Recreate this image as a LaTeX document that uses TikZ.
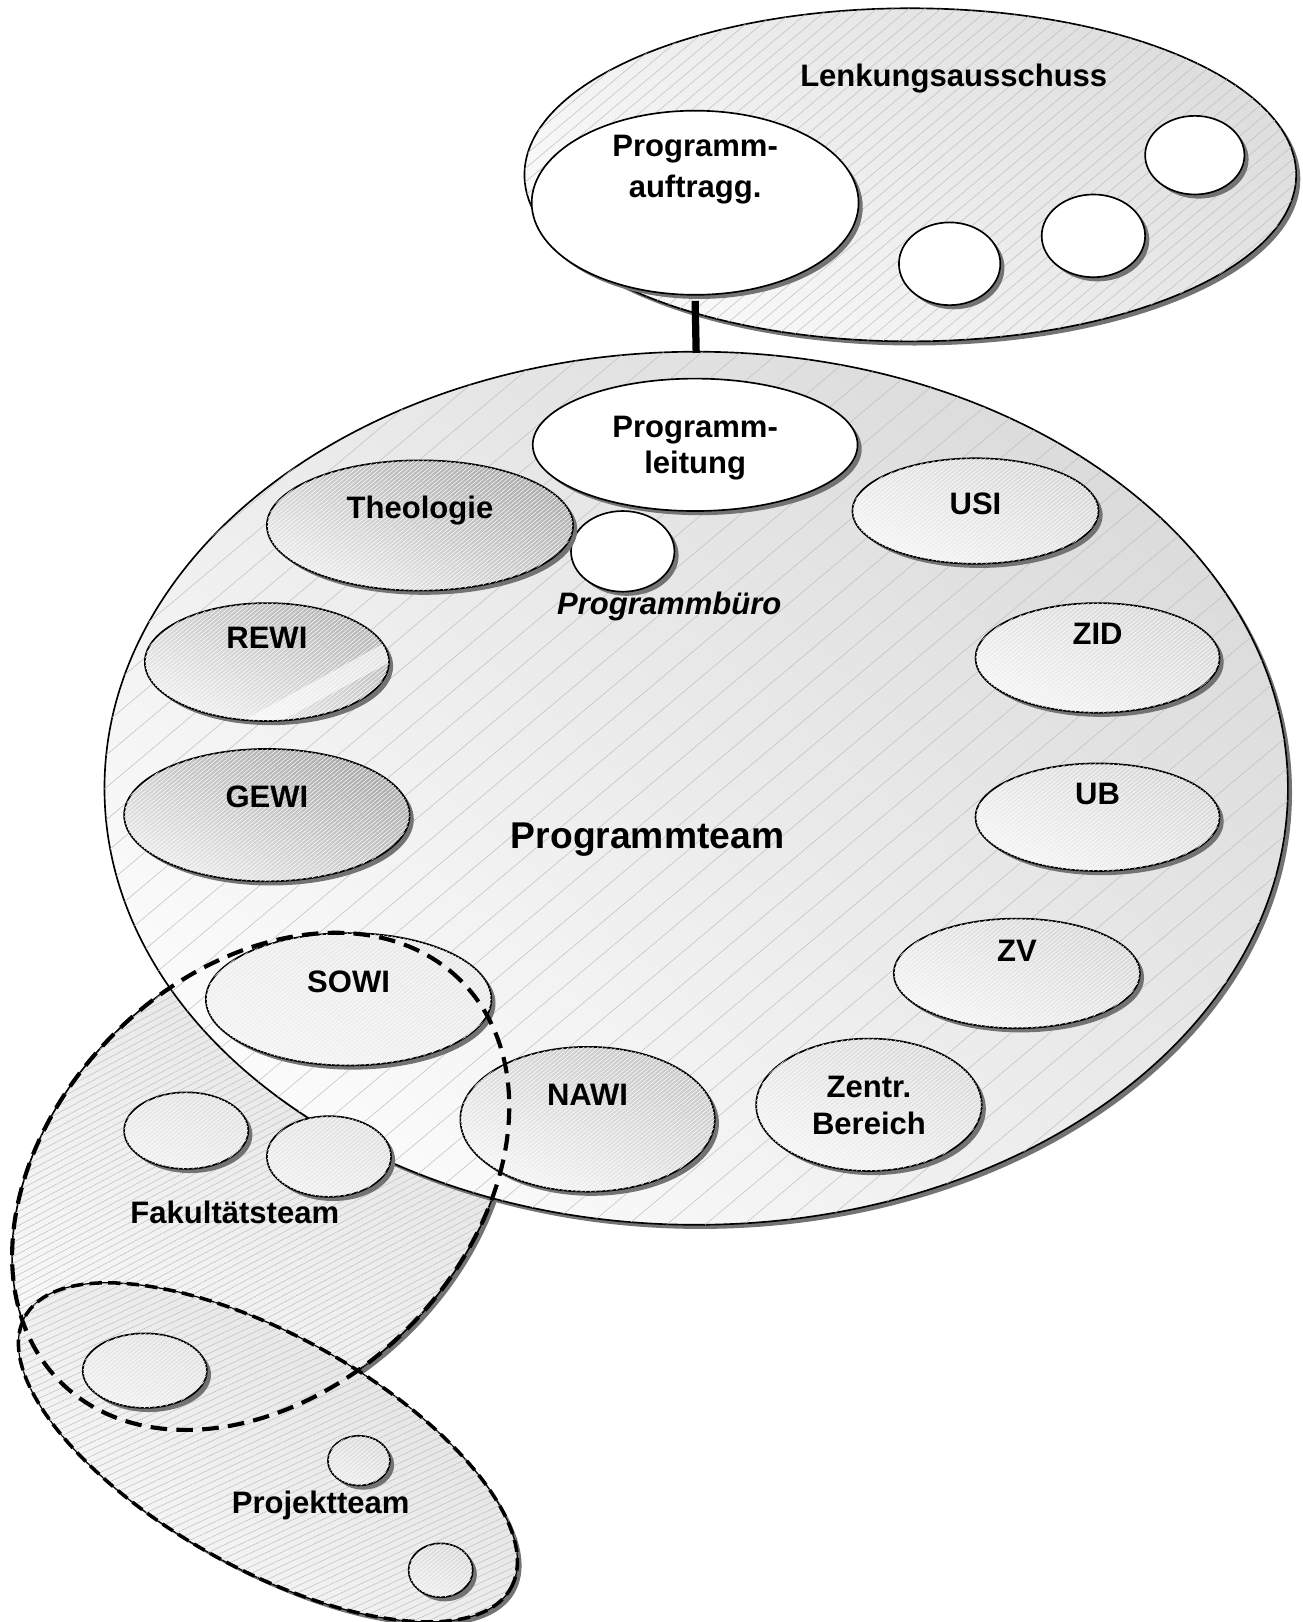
\documentclass[tikz,border=0pt]{standalone}
\usepackage{fontspec}
\setmainfont{Liberation Sans}
\usetikzlibrary{shapes.geometric,shadows,patterns.meta}
\begin{document}
\begin{tikzpicture}[x=1pt,y=-1pt,
  ellbase/.style={ellipse, draw=black, line width=1.6pt, inner sep=0pt,
    drop shadow={shadow xshift=4pt, shadow yshift=-4pt, opacity=1, fill=black!55}},
  whiteell/.style={ellbase, fill=white},
  grayell/.style 2 args={ellbase, left color=#1, right color=#2, shading angle=-25,
    postaction={pattern={Lines[angle=40,distance=3pt,line width=0.5pt]}, pattern color=white, fill opacity=0.25}},
  bigell/.style 2 args={ellbase, left color=#1, right color=#2, shading angle=-40},
  hatch/.style 2 args={postaction={pattern={Lines[angle=#1,distance=#2,line width=0.5pt]}, pattern color=gray!50, fill opacity=0.4}},
  lbl/.style={font=\fontsize{30}{36}\selectfont\bfseries, anchor=base, inner sep=0pt},
  fakdash/.style={ellipse, draw=black, line width=4pt, dash pattern=on 16pt off 9pt, inner sep=0pt},
  projdash/.style={ellipse, draw=black, line width=3.4pt, dash pattern=on 12pt off 6pt, inner sep=0pt},
]
\useasboundingbox (0,0) rectangle (1259,1568);
\fill[white] (0,0) rectangle (1259,1568);

% ---------- Lenkungsausschuss ----------
\node[bigell={gray!26}{gray!4}, hatch={40}{10pt}, minimum width=746pt, minimum height=322pt] (lenk) at (880,169) {};
\node[whiteell, minimum width=316pt, minimum height=178pt] (auftrag) at (672,196) {};
\node[whiteell, minimum width=96pt, minimum height=76pt] (w1) at (1155,150) {};
\node[whiteell, minimum width=100pt, minimum height=80pt] (w2) at (1057,228) {};
\node[whiteell, minimum width=98pt, minimum height=80pt] (w3) at (918,255) {};

% ---------- Fakultaetsteam and Projektteam (underneath) ----------
\node[bigell={gray!24}{gray!5}, hatch={28}{6pt}, rotate=45, minimum width=548pt, minimum height=402pt] (fak) at (252,1142) {};
\node[bigell={gray!24}{gray!4}, hatch={25}{6pt}, rotate=-29.2, minimum width=538pt, minimum height=225pt, line width=1.2pt] (proj) at (259,1404) {};

% ---------- Programmteam ----------
\node[bigell={gray!28}{gray!3}, hatch={40}{24pt}, minimum width=1144pt, minimum height=844pt] (team) at (673,762) {};

\draw[line width=7pt] ([yshift=-5pt]auftrag.south) -- ([yshift=-2pt]team.north);

\node[whiteell, minimum width=314pt, minimum height=128pt] (leitung) at (672,430) {};
\node[whiteell, minimum width=100pt, minimum height=78pt] (buero) at (602,533) {};

\node[grayell={gray!66}{gray!14}, minimum width=296pt, minimum height=126pt] (theo) at (406,508) {};
\node[grayell={gray!58}{gray!12}, minimum width=236pt, minimum height=114pt] (rewi) at (258,640) {};
\begin{scope}
  \clip (258,640) ellipse [x radius=117, y radius=56];
  \fill[white, opacity=0.6] (222,704) -- (378,618) -- (388,634) -- (236,716) -- cycle;
\end{scope}
\node[grayell={gray!68}{gray!16}, minimum width=276pt, minimum height=128pt] (gewi) at (258,788) {};

\node[grayell={gray!32}{gray!8}, minimum width=238pt, minimum height=102pt] (usi) at (943,494) {};
\node[grayell={gray!32}{gray!8}, minimum width=236pt, minimum height=106pt] (zid) at (1061,636) {};
\node[grayell={gray!32}{gray!8}, minimum width=236pt, minimum height=104pt] (ub) at (1061,790) {};
\node[grayell={gray!32}{gray!8}, minimum width=238pt, minimum height=106pt] (zv) at (983,941) {};
\node[grayell={gray!30}{gray!8}, minimum width=218pt, minimum height=128pt] (zentr) at (840,1068) {};
\node[grayell={gray!44}{gray!8}, minimum width=246pt, minimum height=140pt] (nawi) at (568,1082) {};
\node[grayell={gray!18}{gray!10}, minimum width=276pt, minimum height=128pt] (sowi) at (337,966) {};

\node[grayell={gray!24}{gray!12}, minimum width=120pt, minimum height=74pt] (fs1) at (180,1093) {};
\node[grayell={gray!24}{gray!12}, minimum width=120pt, minimum height=78pt] (fs2) at (318,1118) {};
\node[grayell={gray!24}{gray!12}, minimum width=120pt, minimum height=72pt] (pc1) at (140,1325) {};
\node[grayell={gray!30}{gray!14}, minimum width=60pt, minimum height=48pt] (pc2) at (347,1412) {};
\node[grayell={gray!30}{gray!14}, minimum width=62pt, minimum height=52pt] (pc3) at (426,1518) {};

% ---------- dashed outlines ----------
\node[projdash, rotate=-29.2, minimum width=538pt, minimum height=225pt] (projd) at (proj.center) {};
\node[fakdash, rotate=45, minimum width=548pt, minimum height=402pt] (fakd) at (fak.center) {};

% ---------- labels ----------
\node[lbl] (tlenk) at (922,84) {Lenkungsausschuss};
\node[lbl] (tauf1) at (672,151) {Programm-};
\node[lbl] (tauf2) at (672,191) {auftragg.};
\node[lbl] (tlei1) at (672,423) {Programm-};
\node[lbl] (tlei2) at (672,458) {leitung};
\node[lbl] (ttheo) at (406,501) {Theologie};
\node[lbl, font=\fontsize{30}{36}\selectfont\bfseries\itshape] (tbuero) at (647,594) {Programmbüro};
\node[lbl] (tusi) at (943,497) {USI};
\node[lbl] (trewi) at (258,627) {REWI};
\node[lbl] (tzid) at (1061,623) {ZID};
\node[lbl] (tgewi) at (258,781) {GEWI};
\node[lbl, font=\fontsize{36}{42}\selectfont\bfseries] (tteam) at (626,820) {Programmteam};
\node[lbl] (tub) at (1061,778) {UB};
\node[lbl] (tzv) at (983,929) {ZV};
\node[lbl] (tsowi) at (337,959) {SOWI};
\node[lbl] (tnawi) at (568,1069) {NAWI};
\node[lbl] (tzen1) at (840,1061) {Zentr.};
\node[lbl] (tzen2) at (840,1097) {Bereich};
\node[lbl] (tfak) at (227,1183) {Fakultätsteam};
\node[lbl] (tproj) at (310,1463) {Projektteam};
\end{tikzpicture}
\end{document}
